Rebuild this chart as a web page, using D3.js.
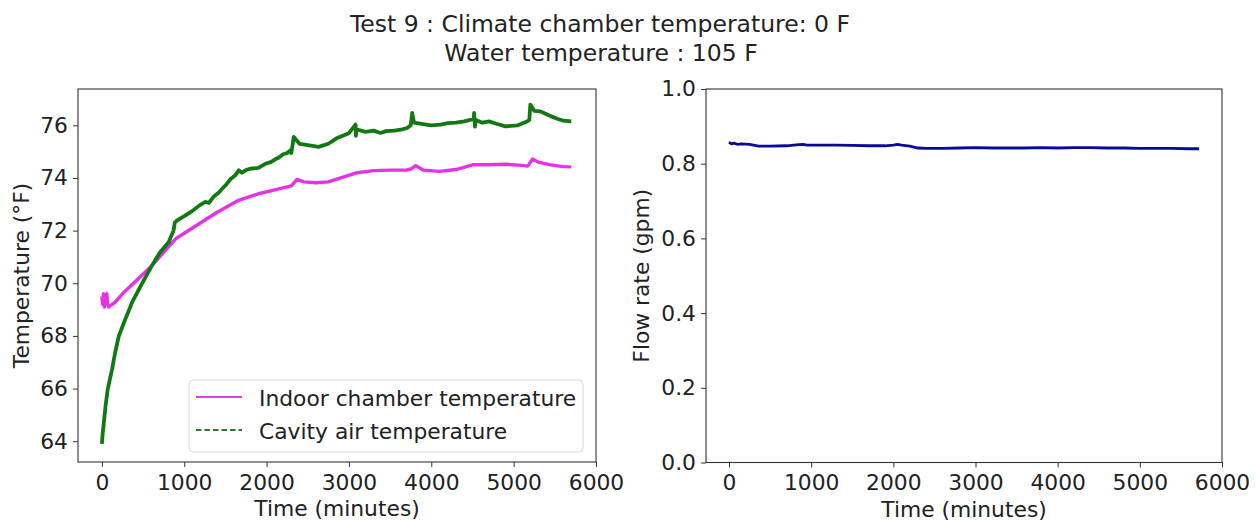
<!DOCTYPE html>
<html><head><meta charset="utf-8">
<script src="https://cdn.jsdelivr.net/npm/d3@7"></script>
<style>body{margin:0;background:#fff}svg{display:block}text{font-family:"DejaVu Sans",sans-serif;fill:#222}</style>
</head><body>
<svg id="c" width="1256" height="522"></svg>
<script>
const titleLines = ["Test 9 : Climate chamber temperature: 0 F", "Water temperature : 105 F"];
const xTicks = [0, 1000, 2000, 3000, 4000, 5000, 6000];
const tempTicks = [64, 66, 68, 70, 72, 74, 76];
const flowTicks = [0.0, 0.2, 0.4, 0.6, 0.8, 1.0];
const seriesNames = ["Indoor chamber temperature", "Cavity air temperature"];

const indoorTime = [0,10,20,30,40,50,60,70,85,100,150,250,400,607,800,900,1000,1200,1400,1660,1900,2100,2300,2370,2450,2600,2750,2900,3100,3300,3500,3700,3760,3810,3900,4100,4300,4500,4700,4900,5100,5170,5230,5300,5450,5600,5700];
const indoorTemp = [69.5,69.2,69.6,69.1,69.5,69.3,69.6,69.2,69.1,69.15,69.25,69.6,70.05,70.67,71.35,71.7,71.9,72.3,72.7,73.15,73.4,73.55,73.7,73.95,73.85,73.82,73.85,74.0,74.2,74.28,74.3,74.3,74.35,74.47,74.3,74.25,74.32,74.5,74.5,74.52,74.48,74.45,74.72,74.6,74.5,74.43,74.42];

const cavityTime = [0,10,25,45,70,100,125,160,206,280,368,480,607,700,812,870,885,914,1000,1100,1180,1257,1300,1360,1420,1460,1510,1560,1620,1662,1700,1750,1800,1900,1985,2050,2100,2150,2200,2250,2288,2300,2330,2400,2500,2632,2750,2858,3000,3080,3085,3090,3200,3300,3384,3450,3550,3650,3707,3750,3768,3790,3900,4000,4112,4200,4300,4400,4516,4520,4530,4540,4620,4700,4800,4900,5050,5163,5190,5203,5250,5324,5400,5450,5530,5600,5700];
const cavityTemp = [63.9,64.3,64.75,65.35,65.95,66.4,66.75,67.35,68.0,68.6,69.28,69.95,70.67,71.15,71.57,72.0,72.3,72.39,72.55,72.75,72.95,73.09,73.05,73.3,73.45,73.59,73.75,73.95,74.1,74.29,74.2,74.3,74.35,74.38,74.54,74.6,74.7,74.78,74.9,74.95,75.05,74.95,75.56,75.3,75.25,75.18,75.3,75.52,75.7,76.03,75.6,75.85,75.75,75.8,75.71,75.78,75.8,75.85,75.9,76.0,76.47,76.1,76.05,76.0,76.03,76.08,76.1,76.15,76.24,76.47,75.95,76.2,76.1,76.15,76.05,75.96,76.0,76.15,76.2,76.79,76.55,76.53,76.42,76.35,76.25,76.18,76.15];

const flowTime = [0,30,60,100,150,250,360,500,700,850,900,950,1100,1300,1500,1700,1900,2000,2050,2100,2200,2300,2400,2600,2800,3000,3200,3400,3600,3800,4000,4200,4400,4600,4800,5000,5200,5400,5600,5720];
const flowRate = [0.858,0.853,0.855,0.852,0.853,0.852,0.847,0.847,0.848,0.851,0.852,0.850,0.850,0.850,0.849,0.848,0.848,0.850,0.852,0.850,0.847,0.842,0.841,0.841,0.842,0.843,0.842,0.842,0.842,0.843,0.842,0.843,0.843,0.842,0.842,0.841,0.841,0.841,0.840,0.840];

const svg = d3.select("#c");
const FS = 21.8;

// title
svg.append("text").attr("x", 600).attr("y", 32).attr("text-anchor","middle").attr("font-size",23.5).text(titleLines[0]);
svg.append("text").attr("x", 601).attr("y", 61).attr("text-anchor","middle").attr("font-size",23.5).text(titleLines[1]);

function panel(box, xDom, yDom, yTickVals, yFmt, yLabel) {
  const x = d3.scaleLinear().domain(xDom).range([box.x0, box.x1]);
  const y = d3.scaleLinear().domain(yDom).range([box.y1, box.y0]);
  const g = svg.append("g");
  const xa = g.append("g").attr("transform", `translate(0,${box.y1})`)
    .call(d3.axisBottom(x).tickValues(xTicks).tickSize(5).tickPadding(4).tickFormat(d3.format("d")));
  const ya = g.append("g").attr("transform", `translate(${box.x0},0)`)
    .call(d3.axisLeft(y).tickValues(yTickVals).tickSize(5).tickPadding(5).tickFormat(yFmt));
  [xa, ya].forEach(a => {
    a.select(".domain").remove();
    a.selectAll("line").attr("stroke","#333").attr("stroke-width",1);
    a.selectAll("text").attr("font-size",FS).attr("fill","#222").style("font-family","DejaVu Sans");
  });
  xa.selectAll("text").attr("dy","0.85em");
  g.append("text").attr("x",(box.x0+box.x1)/2).attr("y",box.y1+54).attr("text-anchor","middle").attr("font-size",FS).text("Time (minutes)");
  g.append("text").attr("transform",`translate(${box.x0-yLabel.off},${(box.y0+box.y1)/2}) rotate(-90)`).attr("text-anchor","middle").attr("font-size",FS).text(yLabel.text);
  return {x, y, g};
}

function frame(box){
  svg.append("rect").attr("x",box.x0).attr("y",box.y0).attr("width",box.x1-box.x0).attr("height",box.y1-box.y0)
    .attr("fill","none").attr("stroke","#333").attr("stroke-width",1.1);
}

// left panel
const boxL = {x0:78, x1:596, y0:89, y1:462};
const L = panel(boxL, [-290, 6000], [63.21, 77.38], tempTicks, d3.format("d"), {text:"Temperature (°F)", off:49});
svg.append("clipPath").attr("id","clipL").append("rect").attr("x",boxL.x0).attr("y",boxL.y0).attr("width",boxL.x1-boxL.x0).attr("height",boxL.y1-boxL.y0);
const lineL = d3.line().x(d=>L.x(d[0])).y(d=>L.y(d[1]));
svg.append("path").attr("clip-path","url(#clipL)").attr("d", lineL(indoorTime.map((t,i)=>[t,indoorTemp[i]])))
  .attr("fill","none").attr("stroke","#e632e6").attr("stroke-width",3.4).attr("stroke-linejoin","round");
svg.append("path").attr("clip-path","url(#clipL)").attr("d", lineL(cavityTime.map((t,i)=>[t,cavityTemp[i]])))
  .attr("fill","none").attr("stroke","#127812").attr("stroke-width",3.8).attr("stroke-linejoin","round");
frame(boxL);

// legend
const lg = svg.append("g");
lg.append("rect").attr("x",189).attr("y",380).attr("width",394).attr("height",72).attr("rx",4)
  .attr("fill","rgba(255,255,255,0.85)").attr("stroke","#d8d8d8").attr("stroke-width",1);
lg.append("line").attr("x1",196).attr("x2",242).attr("y1",397).attr("y2",397).attr("stroke","#e040e0").attr("stroke-width",2.2);
lg.append("line").attr("x1",196).attr("x2",242).attr("y1",430).attr("y2",430).attr("stroke","#2e7a2e").attr("stroke-width",2.2).attr("stroke-dasharray","5.5,3");
lg.append("text").attr("x",259).attr("y",406).attr("font-size",FS).text(seriesNames[0]);
lg.append("text").attr("x",259).attr("y",439).attr("font-size",FS).text(seriesNames[1]);

// right panel
const boxR = {x0:706, x1:1222, y0:89, y1:462.5};
const R = panel(boxR, [-280, 6000], [0, 1], flowTicks, d3.format(".1f"), {text:"Flow rate (gpm)", off:57});
const lineR = d3.line().x(d=>R.x(d[0])).y(d=>R.y(d[1]));
svg.append("path").attr("d", lineR(flowTime.map((t,i)=>[t,flowRate[i]])))
  .attr("fill","none").attr("stroke","#0a0a9a").attr("stroke-width",2.8).attr("stroke-linejoin","round");
frame(boxR);
</script>
</body></html>
